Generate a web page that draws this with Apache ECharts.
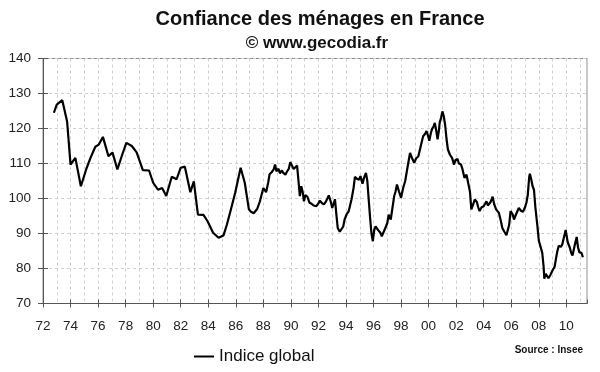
<!DOCTYPE html>
<html>
<head>
<meta charset="utf-8">
<script src="https://cdn.jsdelivr.net/npm/echarts@6/dist/echarts.min.js"></script>
<style>
html,body{margin:0;padding:0;background:#fff;}
#chart{width:600px;height:372px;}
</style>
</head>
<body>
<div id="chart"></div>
<script>
const titleText = 'Confiance des ménages en France';
const subtitleText = '© www.gecodia.fr';
const sourceText = 'Source : Insee';
const seriesName = 'Indice global';
const yTicks = [70, 80, 90, 100, 110, 120, 130, 140];
const xTickYears = [1972,1974,1976,1978,1980,1982,1984,1986,1988,1990,1992,1994,1996,1998,2000,2002,2004,2006,2008,2010];

const years = [
1972.79,1973.0,1973.4,1973.75,1974.0,1974.35,1974.75,1975.15,1975.45,1975.8,
1976.05,1976.35,1976.75,1977.05,1977.4,1977.75,1978.05,1978.45,1978.8,1979.25,
1979.7,1980.0,1980.35,1980.65,1980.95,1981.35,1981.7,1982.0,1982.3,1982.7,
1982.95,1983.25,1983.65,1983.95,1984.35,1984.75,1985.1,1985.35,1985.6,1985.95,
1986.35,1986.65,1986.95,1987.1,1987.3,1987.4,1987.55,1987.75,1987.9,1988.0,
1988.2,1988.35,1988.45,1988.6,1988.75,1988.85,1988.95,1989.1,1989.2,1989.35,
1989.45,1989.6,1989.7,1989.85,1989.95,1990.1,1990.2,1990.3,1990.45,1990.55,
1990.65,1990.75,1990.85,1990.95,1991.05,1991.2,1991.35,1991.5,1991.65,1991.85,
1992.0,1992.1,1992.25,1992.4,1992.55,1992.65,1992.75,1992.9,1993.0,1993.1,
1993.2,1993.3,1993.4,1993.55,1993.65,1993.8,1993.9,1994.05,1994.2,1994.4,
1994.55,1994.65,1994.8,1994.95,1995.05,1995.2,1995.3,1995.45,1995.55,1995.65,
1995.75,1995.85,1995.95,1996.05,1996.15,1996.25,1996.35,1996.5,1996.6,1996.7,
1996.85,1997.0,1997.1,1997.25,1997.35,1997.5,1997.6,1997.7,1997.85,1998.0,
1998.15,1998.3,1998.45,1998.65,1998.8,1998.95,1999.1,1999.25,1999.4,1999.6,
1999.75,1999.85,1999.95,2000.05,2000.15,2000.25,2000.35,2000.45,2000.55,2000.65,
2000.75,2000.8,2000.9,2001.0,2001.1,2001.2,2001.3,2001.4,2001.55,2001.7,
2001.85,2001.95,2002.1,2002.2,2002.35,2002.45,2002.6,2002.75,2002.85,2003.0,
2003.1,2003.25,2003.35,2003.5,2003.6,2003.7,2003.85,2004.0,2004.1,2004.2,
2004.3,2004.4,2004.5,2004.65,2004.75,2004.9,2005.0,2005.1,2005.25,2005.35,
2005.5,2005.65,2005.75,2005.85,2005.95,2006.1,2006.2,2006.35,2006.55,2006.7,
2006.85,2007.0,2007.1,2007.2,2007.3,2007.35,2007.45,2007.55,2007.65,2007.75,
2007.9,2008.0,2008.15,2008.25,2008.35,2008.4,2008.5,2008.6,2008.7,2008.85,
2009.0,2009.15,2009.25,2009.35,2009.45,2009.6,2009.7,2009.8,2009.95,2010.1,
2010.25,2010.35,2010.45,2010.6,2010.75,2010.85,2010.95,2011.1,2011.2
];
const values = [
124.5,126.8,128.1,122.0,109.7,111.6,103.5,108.5,111.6,114.8,
115.4,117.6,112.1,113.1,108.3,112.5,115.9,115.0,113.2,108.1,
108.0,104.5,102.5,103.0,100.7,106.2,105.5,108.8,109.1,101.8,
104.9,95.4,95.3,93.5,90.2,88.8,89.4,92.5,96.2,101.6,
108.8,104.5,96.9,96.2,95.8,95.4,97.0,99.2,101.5,103.0,
101.8,104.5,106.9,107.5,108.3,109.7,107.8,108.5,107.2,108.0,
107.3,106.8,107.6,108.5,110.4,109.2,108.4,108.9,109.4,105.0,
100.7,103.5,102.0,99.2,101.0,100.5,98.8,98.5,98.0,97.8,
98.6,99.4,98.7,98.3,99.2,100.0,100.9,99.0,97.3,98.5,
99.8,95.5,91.6,90.5,90.0,92.0,94.0,95.5,96.4,99.7,
103.0,106.2,105.6,105.4,106.4,104.2,105.8,107.3,105.0,99.7,
94.5,90.0,87.8,91.0,92.0,91.5,90.9,90.2,89.2,89.5,
91.5,93.0,95.4,94.0,94.5,100.7,102.0,104.0,102.0,100.2,
103.0,105.0,108.5,113.0,111.5,110.2,111.5,112.0,114.5,117.8,
118.5,119.3,118.0,116.5,118.5,119.9,120.5,121.6,119.5,116.9,
119.5,121.6,123.0,124.9,123.5,121.0,117.0,114.0,112.5,111.6,
109.7,111.0,111.3,110.0,109.7,108.5,105.9,106.8,106.7,102.0,
96.9,98.5,99.7,99.0,97.5,96.4,97.5,97.8,98.5,99.2,
98.0,97.8,99.0,100.5,98.5,96.9,96.5,95.9,93.5,91.6,
90.5,89.5,89.0,92.5,96.4,95.5,94.0,95.5,97.3,96.5,
96.2,97.5,98.8,101.0,106.0,107.1,105.5,103.5,102.5,97.5,
92.1,88.0,85.9,84.5,80.5,77.1,78.5,78.3,77.2,78.2,
79.5,80.5,82.9,85.0,86.5,86.2,86.8,88.5,91.0,87.5,
86.0,84.5,83.7,86.5,89.0,86.0,84.6,84.5,83.2
];

const seriesData = years.map((y, i) => [y, values[i]]);
const xMin = xTickYears[0];
const xMax = 2011.5;
const yMin = yTicks[0];
const yMax = yTicks[yTicks.length - 1];

const FONT = '"Liberation Sans", Arial, sans-serif';
const chart = echarts.init(document.getElementById('chart'), null, {renderer: 'canvas'});

chart.setOption({
  animation: false,
  backgroundColor: '#ffffff',
  grid: {left: 43, right: 13, top: 58.5, bottom: 68.5, show: true, borderColor: '#8c8c8c', borderWidth: 1, backgroundColor: 'transparent'},
  legend: {
    data: [{name: seriesName, icon: 'rect'}],
    left: 189,
    top: 343,
    itemWidth: 20,
    itemHeight: 2,
    itemGap: 5,
    itemStyle: {color: '#000', borderWidth: 0},
    textStyle: {fontFamily: FONT, fontSize: 17, color: '#111', padding: [0, 0, 0, 0]}
  },
  graphic: [
    {type: 'text', x: 320, y: 19, style: {text: titleText, font: 'bold 20px ' + FONT, fill: '#111', textAlign: 'center', textVerticalAlign: 'middle'}},
    {type: 'text', x: 317, y: 43, style: {text: subtitleText, font: 'bold 17px ' + FONT, fill: '#111', textAlign: 'center', textVerticalAlign: 'middle'}},
    {type: 'text', x: 583, y: 350, style: {text: sourceText, font: 'bold 10px ' + FONT, fill: '#111', textAlign: 'right', textVerticalAlign: 'middle'}}
  ],
  xAxis: [
    {
      type: 'value', min: xMin, max: xMax, interval: 2, position: 'bottom',
      axisLine: {show: true, lineStyle: {color: '#555', width: 1}},
      axisTick: {show: true, inside: false, length: 4, lineStyle: {color: '#555'}},
      axisLabel: {
        margin: 16, fontFamily: FONT, fontSize: 13.5, color: '#222',
        formatter: v => (xTickYears.indexOf(v) >= 0 ? String(v).slice(2) : ''),
        showMaxLabel: false
      },
      splitLine: {show: false}
    },
    {
      type: 'value', min: xMin, max: xMax, interval: 2, position: 'bottom', gridIndex: 0,
      axisLine: {show: false},
      axisTick: {show: true, inside: true, length: 4, lineStyle: {color: '#555'}},
      axisLabel: {show: false},
      splitLine: {show: false}
    },
    {
      type: 'value', min: xMin, max: xMax, interval: 1, position: 'bottom', gridIndex: 0,
      axisLine: {show: false},
      axisTick: {show: false},
      axisLabel: {show: false},
      splitLine: {show: true, lineStyle: {color: '#cfcfcf', type: [3, 3], width: 1}}
    }
  ],
  yAxis: [
    {
      type: 'value', min: yMin, max: yMax, interval: 10, position: 'left',
      axisLine: {show: true, lineStyle: {color: '#555', width: 1}},
      axisTick: {show: true, inside: false, length: 5, lineStyle: {color: '#555'}},
      axisLabel: {margin: 12, fontFamily: FONT, fontSize: 13.5, color: '#222'},
      splitLine: {show: true, lineStyle: {color: '#cfcfcf', type: [3, 3], width: 1}}
    },
    {
      type: 'value', min: yMin, max: yMax, interval: 10, position: 'left',
      axisLine: {show: false},
      axisTick: {show: true, inside: true, length: 5, lineStyle: {color: '#555'}},
      axisLabel: {show: false},
      splitLine: {show: false}
    }
  ],
  series: [{
    name: seriesName,
    type: 'line',
    xAxisIndex: 0,
    yAxisIndex: 0,
    data: seriesData,
    symbol: 'none',
    smooth: false,
    lineStyle: {color: '#000', width: 2.2},
    itemStyle: {color: '#000'}
  }]
});
</script>
</body>
</html>
